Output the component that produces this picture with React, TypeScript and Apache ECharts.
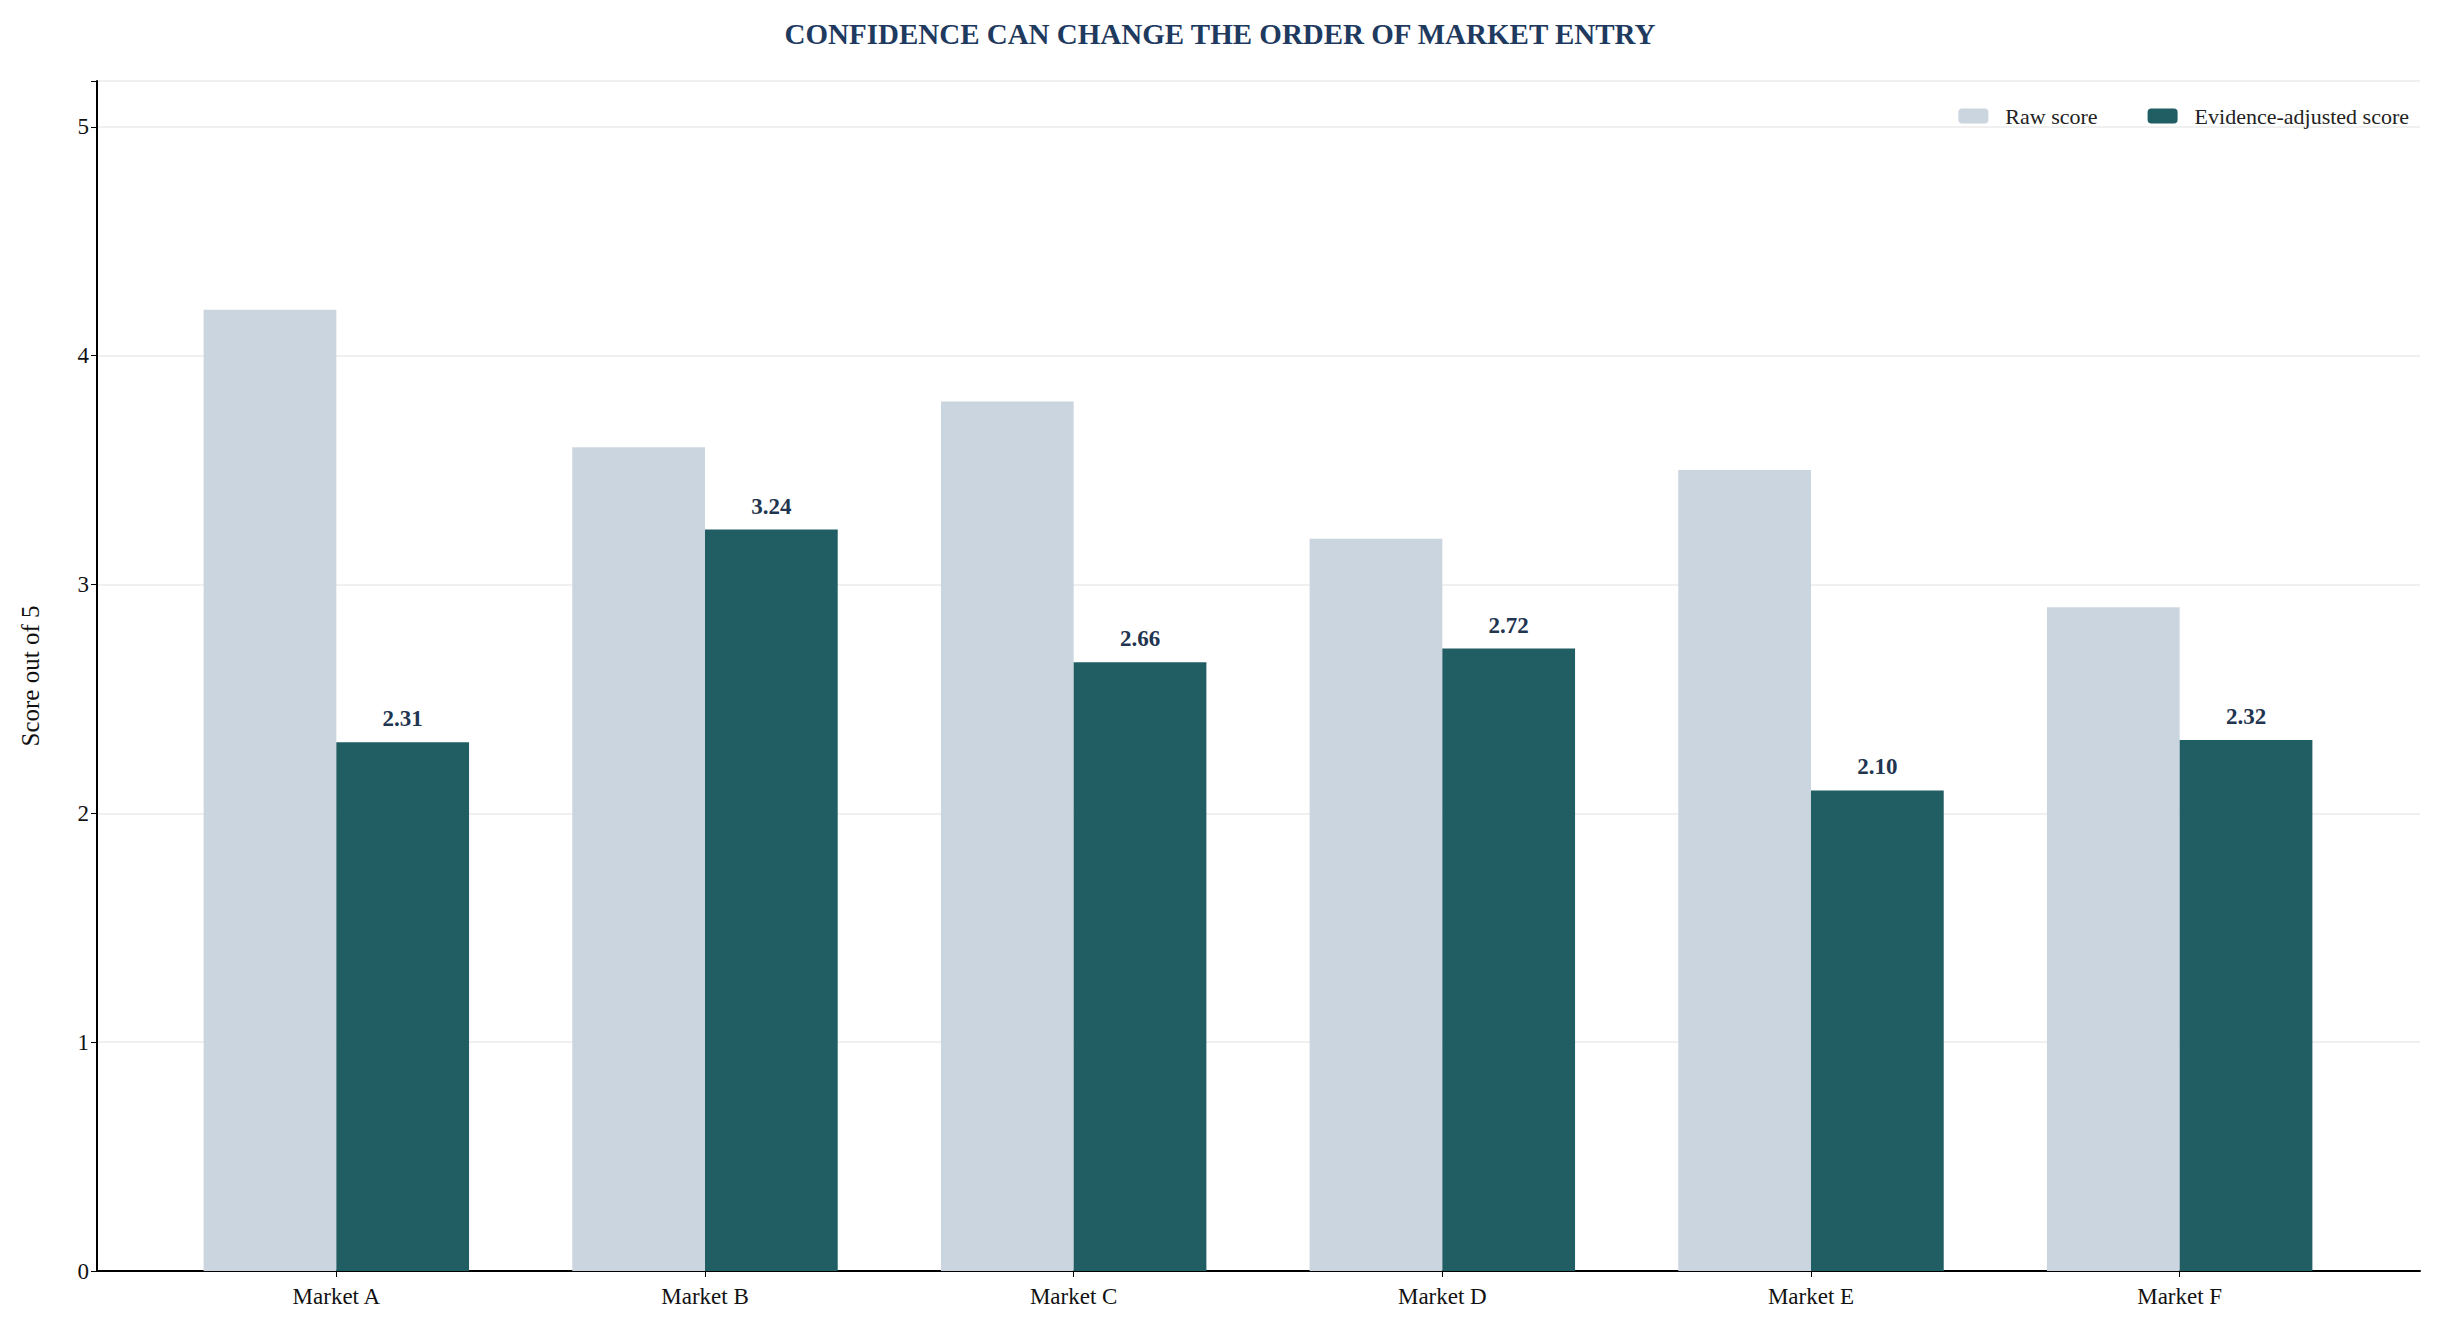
import { useEffect, useRef } from 'react';
import * as echarts from 'echarts';

const markets = ['Market A', 'Market B', 'Market C', 'Market D', 'Market E', 'Market F'];
const rawScores = [4.2, 3.6, 3.8, 3.2, 3.5, 2.9];
const adjustedScores = [2.31, 3.24, 2.66, 2.72, 2.1, 2.32];

const font = 'Liberation Serif';

export default function App() {
  const ref = useRef<HTMLDivElement | null>(null);

  useEffect(() => {
    document.body.style.margin = '0';
    if (!ref.current) return;
    const chart = echarts.init(ref.current, null, { renderer: 'svg' });
    const yBase = { type: 'value', min: 0, max: 5.2, interval: 1 };
    chart.setOption({
      animation: false,
      textStyle: { fontFamily: font },
      title: {
        text: 'CONFIDENCE CAN CHANGE THE ORDER OF MARKET ENTRY',
        left: 'center',
        top: 14,
        textStyle: { fontFamily: font, fontSize: 29, fontWeight: 'bold', color: '#1f3a5f' },
      },
      legend: {
        right: 26,
        top: 100,
        itemWidth: 30,
        itemHeight: 15,
        itemGap: 50,
        textStyle: { fontFamily: font, fontSize: 22, color: '#222', padding: [0, 0, 0, 12] },
        data: ['Raw score', 'Evidence-adjusted score'],
      },
      grid: [
        { left: 97, right: 20, top: 81, bottom: 71 },
        { left: 152, right: 76, top: 81, bottom: 71 },
      ],
      xAxis: [
        {
          type: 'category',
          gridIndex: 0,
          data: markets,
          axisLine: { lineStyle: { color: '#000', width: 2 } },
          axisTick: { show: false },
          axisLabel: { show: false },
        },
        {
          type: 'category',
          gridIndex: 1,
          data: markets,
          axisLine: { show: false },
          axisTick: { show: true, alignWithLabel: true, length: 6, lineStyle: { color: '#000' } },
          axisLabel: { fontSize: 23, color: '#111', margin: 14, fontFamily: font },
        },
      ],
      yAxis: [
        {
          ...yBase,
          gridIndex: 0,
          name: 'Score out of 5',
          nameLocation: 'middle',
          nameGap: 54,
          nameTextStyle: { fontSize: 25, color: '#111', fontFamily: font },
          axisLine: { show: true, lineStyle: { color: '#000', width: 2 } },
          axisTick: { show: true, length: 6, lineStyle: { color: '#000' } },
          axisLabel: {
            fontSize: 23,
            color: '#111',
            fontFamily: font,
            formatter: (v: number) => (Number.isInteger(v) ? String(v) : ''),
          },
          splitLine: { lineStyle: { color: '#ebebeb', width: 1.5 } },
        },
        {
          ...yBase,
          gridIndex: 1,
          axisLine: { show: false },
          axisTick: { show: false },
          axisLabel: { show: false },
          splitLine: { show: false },
        },
      ],
      series: [
        {
          name: 'Raw score',
          type: 'bar',
          xAxisIndex: 1,
          yAxisIndex: 1,
          data: rawScores,
          barWidth: '36%',
          barGap: '0%',
          itemStyle: { color: '#cbd5df' },
        },
        {
          name: 'Evidence-adjusted score',
          type: 'bar',
          xAxisIndex: 1,
          yAxisIndex: 1,
          data: adjustedScores,
          barWidth: '36%',
          itemStyle: { color: '#215e63' },
          label: {
            show: true,
            position: 'top',
            distance: 12,
            formatter: (p: any) => p.value.toFixed(2),
            fontFamily: font,
            fontSize: 23,
            fontWeight: 'bold',
            color: '#1f3550',
          },
        },
      ],
    });
    return () => chart.dispose();
  }, []);

  return <div ref={ref} style={{ width: 2440, height: 1342 }} />;
}
